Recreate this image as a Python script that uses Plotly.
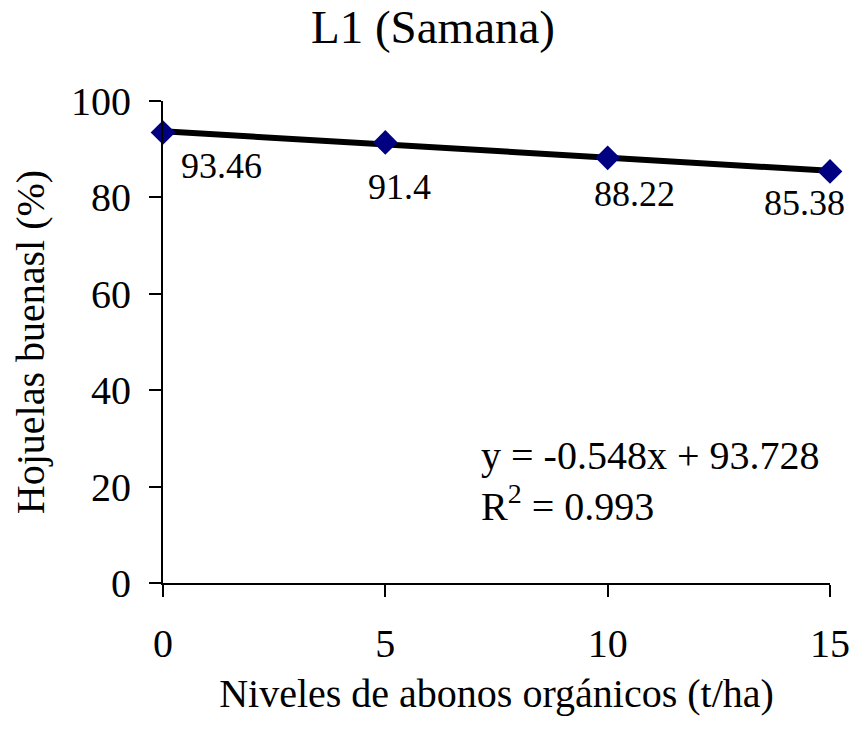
import plotly.graph_objects as go

FONT = "Liberation Serif"

# data
niveles = [0, 5, 10, 15]
hojuelas = [93.46, 91.4, 88.22, 85.38]
etiquetas = ["93.46", "91.4", "88.22", "85.38"]
trend_x = [0, 15]
trend_y = [93.728, 85.508]
ecuacion = "y = -0.548x + 93.728"
r2 = "R<sup>2</sup> = 0.993"

# manual label offsets (px), as in the original
LABEL_SHIFTS = [(58, -33), (14, -45), (27, -36), (-26, -32)]

fig = go.Figure()
fig.add_trace(
    go.Scatter(
        x=trend_x,
        y=trend_y,
        mode="lines",
        line={"color": "black", "width": 6},
        showlegend=False,
        hoverinfo="skip",
    )
)
fig.add_trace(
    go.Scatter(
        x=niveles,
        y=hojuelas,
        mode="markers",
        marker={"symbol": "diamond", "size": 19, "color": "#000080"},
        cliponaxis=False,
        showlegend=False,
    )
)

for xv, yv, label, (dx, dy) in zip(niveles, hojuelas, etiquetas, LABEL_SHIFTS):
    fig.add_annotation(
        x=xv, y=yv, text=label, showarrow=False,
        xshift=dx, yshift=dy, font={"size": 36, "color": "black", "family": FONT},
    )

fig.add_annotation(
    x=0.474, y=0.264, xref="paper", yref="paper", xanchor="left", yanchor="middle",
    text=ecuacion, showarrow=False, font={"size": 40, "color": "black", "family": FONT},
)
fig.add_annotation(
    x=0.474, y=0.165, xref="paper", yref="paper", xanchor="left", yanchor="middle",
    text=r2, showarrow=False, font={"size": 40, "color": "black", "family": FONT},
)

axis_common = {
    "showgrid": False,
    "zeroline": False,
    "showline": True,
    "linecolor": "black",
    "linewidth": 2,
    "ticks": "outside",
    "tickcolor": "black",
    "tickwidth": 2,
    "ticklen": 12,
    "automargin": False,
    "tickfont": {"size": 40, "color": "black", "family": FONT},
}

fig.update_layout(
    width=850,
    height=721,
    paper_bgcolor="white",
    plot_bgcolor="white",
    font={"family": FONT, "color": "black"},
    title={
        "text": "L1 (Samana)",
        "x": 0.5,
        "xanchor": "center",
        "y": 1.0,
        "yanchor": "top",
        "pad": {"t": 2},
        "font": {"size": 47, "color": "black", "family": FONT},
    },
    margin={"l": 155, "r": 28, "t": 93, "b": 146},
    xaxis={
        **axis_common,
        "range": [0, 15],
        "tickvals": niveles,
        "ticklabelstandoff": 12,
        "title": {"text": "Niveles de abonos orgánicos (t/ha)", "font": {"size": 40}, "standoff": 14},
    },
    yaxis={
        **axis_common,
        "range": [0, 100],
        "dtick": 20,
        "ticklabelstandoff": 10,
        "title": {"text": "Hojuelas buenasl (%)", "font": {"size": 40}, "standoff": 18},
    },
)

fig.write_html("out.html")
